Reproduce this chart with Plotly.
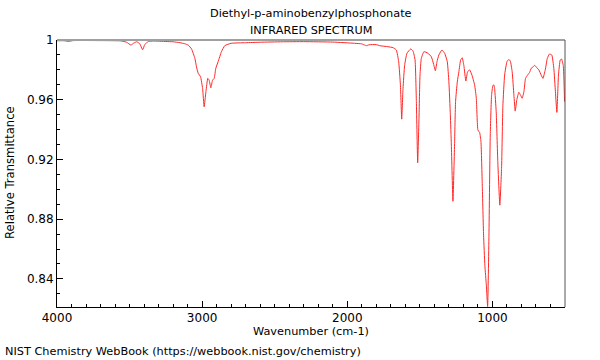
import plotly.graph_objects as go

# Spectrum
wavenumber = [4000, 3950, 3920, 3890, 3700, 3560, 3520, 3491, 3470, 3450, 3430, 3410, 3395, 3370,
              3337, 3250, 3200, 3153, 3120, 3096, 3073, 3050, 3039, 3027, 3011, 2997, 2986, 2974,
              2961, 2952, 2940, 2928, 2917, 2906, 2890, 2867, 2844, 2800, 2700, 2600, 2450, 2300,
              2100, 1950, 1900, 1880, 1868, 1850, 1800, 1777, 1720, 1685, 1662, 1646, 1634, 1625,
              1616, 1605, 1589, 1563, 1547, 1533, 1524, 1515, 1506, 1499, 1490, 1472, 1444, 1421,
              1405, 1393, 1382, 1369, 1348, 1329, 1311, 1300, 1290, 1283, 1272, 1261, 1254, 1242,
              1231, 1219, 1208, 1197, 1183, 1171, 1157, 1141, 1123, 1111, 1100, 1088, 1079, 1070,
              1061, 1052, 1042, 1033, 1024, 1015, 1006, 997, 990, 985, 974, 963, 949, 937, 928,
              916, 900, 887, 877, 864, 852, 843, 832, 818, 806, 795, 783, 772, 758, 744, 733, 722,
              708, 694, 680, 664, 652, 636, 622, 607, 591, 577, 566, 556, 545, 533, 524, 512, 503]
transmittance = [0.9995, 0.9995, 0.9990, 0.9996, 0.9996, 0.9994, 0.9985, 0.9966, 0.9980, 0.9988,
                 0.9975, 0.9935, 0.9970, 0.9990, 0.9993, 0.9990, 0.9988, 0.9982, 0.9975, 0.9966,
                 0.9940, 0.9877, 0.9820, 0.9777, 0.9754, 0.9676, 0.9553, 0.9654, 0.9743, 0.9732,
                 0.9680, 0.9732, 0.9743, 0.9810, 0.9855, 0.9922, 0.9962, 0.9978, 0.9982, 0.9985,
                 0.9988, 0.9989, 0.9986, 0.9978, 0.9974, 0.9966, 0.9962, 0.9968, 0.9969, 0.9962,
                 0.9955, 0.9949, 0.9933, 0.9855, 0.9700, 0.9470, 0.9676, 0.9830, 0.9911, 0.9940,
                 0.9926, 0.9866, 0.9587, 0.9178, 0.9475, 0.9765, 0.9877, 0.9922, 0.9911, 0.9888,
                 0.9837, 0.9794, 0.9855, 0.9900, 0.9933, 0.9911, 0.9855, 0.9720, 0.9500, 0.9297,
                 0.8920, 0.9297, 0.9587, 0.9720, 0.9788, 0.9866, 0.9881, 0.9830, 0.9725, 0.9788,
                 0.9800, 0.9765, 0.9700, 0.9610, 0.9397, 0.9380, 0.9319, 0.9029, 0.8693, 0.8490,
                 0.8358, 0.8215, 0.8693, 0.9364, 0.9630, 0.9694, 0.9700, 0.9676, 0.9520, 0.9185,
                 0.8894, 0.9140, 0.9560, 0.9765, 0.9855, 0.9870, 0.9860, 0.9788, 0.9630, 0.9524,
                 0.9600, 0.9650, 0.9630, 0.9610, 0.9654, 0.9743, 0.9765, 0.9783, 0.9810, 0.9819,
                 0.9830, 0.9814, 0.9800, 0.9765, 0.9743, 0.9800, 0.9877, 0.9906, 0.9900, 0.9810,
                 0.9654, 0.9515, 0.9765, 0.9866, 0.9873, 0.9830, 0.9587]

x_ticks = [4000, 3000, 2000, 1000]
y_ticks = [0.84, 0.88, 0.92, 0.96, 1.0]
y_tick_labels = ["0.84", "0.88", "0.92", "0.96", "1"]

title_line1 = "Diethyl-p-aminobenzylphosphonate"
title_line2 = "INFRARED SPECTRUM"
x_title = "Wavenumber (cm-1)"
y_title = "Relative Transmittance"
footer = "NIST Chemistry WebBook (https://webbook.nist.gov/chemistry)"

FONT = "DejaVu Sans"
TXT = 11.3

fig = go.Figure()
fig.add_trace(go.Scatter(
    x=wavenumber, y=transmittance, mode="lines",
    line=dict(color="#ff2828", width=1, shape="spline", smoothing=0.4),
    hoverinfo="skip", showlegend=False,
))

fig.update_layout(
    width=600, height=360,
    margin=dict(l=57, r=35, t=40, b=53),
    paper_bgcolor="white", plot_bgcolor="white",
    font=dict(family=FONT, size=12, color="black"),
    showlegend=False,
    xaxis=dict(
        range=[4000, 500], autorange=False,
        tickvals=x_ticks, ticktext=[str(v) for v in x_ticks],
        ticks="inside", ticklen=6, tickcolor="black", tickwidth=1,
        showline=True, linecolor="black", linewidth=1,
        showgrid=False, zeroline=False,
        minor=dict(dtick=100, tick0=0, ticks="inside", ticklen=3, tickcolor="black", showgrid=False),
        tickfont=dict(family=FONT, size=12),
    ),
    yaxis=dict(
        range=[0.8212, 1.0], autorange=False,
        tickvals=y_ticks, ticktext=y_tick_labels,
        ticks="inside", ticklen=6, tickcolor="black", tickwidth=1,
        showline=True, linecolor="black", linewidth=1,
        showgrid=False, zeroline=False,
        minor=dict(dtick=0.01, tick0=0.8, ticks="inside", ticklen=3, tickcolor="black", showgrid=False),
        tickfont=dict(family=FONT, size=12),
    ),
    shapes=[
        dict(type="line", xref="paper", yref="paper", x0=0, x1=1, y0=1, y1=1,
             line=dict(color="#a0a0a0", width=2)),
        dict(type="line", xref="paper", yref="paper", x0=1, x1=1, y0=0, y1=1,
             line=dict(color="#555555", width=1)),
    ],
    annotations=[
        dict(text=title_line1, xref="paper", yref="paper", x=0.5, y=1.101,
             xanchor="center", yanchor="middle", showarrow=False, font=dict(size=TXT)),
        dict(text=title_line2, xref="paper", yref="paper", x=0.5, y=1.037,
             xanchor="center", yanchor="middle", showarrow=False, font=dict(size=TXT)),
        dict(text=x_title, xref="paper", yref="paper", x=0.5, y=-0.0936,
             xanchor="center", yanchor="middle", showarrow=False, font=dict(size=TXT)),
        dict(text=y_title, xref="paper", yref="paper", x=-0.0925, y=0.502,
             xanchor="center", yanchor="middle", textangle=-90, showarrow=False, font=dict(size=11.6)),
        dict(text=footer, xref="paper", yref="paper", x=-0.1063, y=-0.1685,
             xanchor="left", yanchor="middle", showarrow=False, font=dict(size=TXT)),
    ],
)

fig.write_html("out.html", config={"displayModeBar": False},
               post_script="document.body.style.margin='0';document.body.style.padding='0';")
